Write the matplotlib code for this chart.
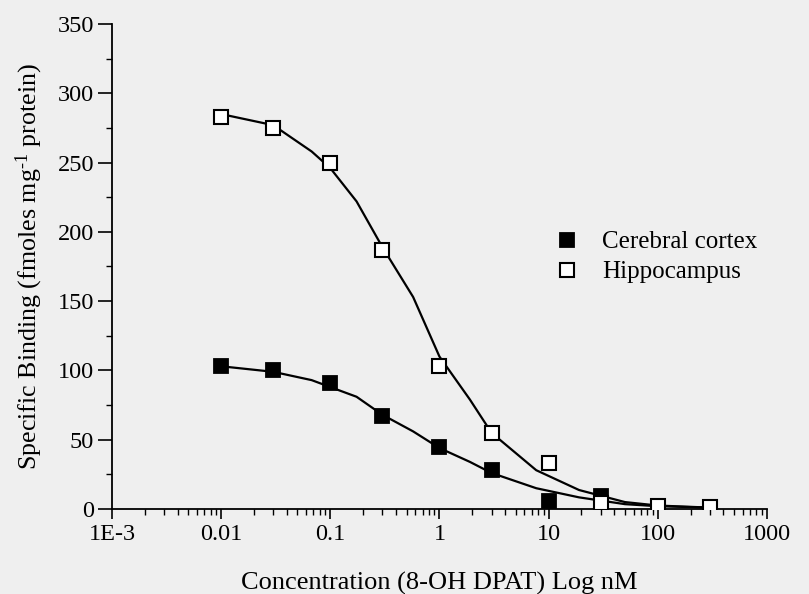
import matplotlib
matplotlib.use('Agg')
import matplotlib.pyplot as plt
import matplotlib.ticker as mticker
import numpy as np

conc = [0.01, 0.03, 0.1, 0.3, 1, 3, 10, 30, 100, 300]
hippocampus = [283, 275, 250, 187, 103, 55, 33, 4.5, 2, 1.5]
cortex_conc = [0.01, 0.03, 0.1, 0.3, 1, 3, 10, 30]
cortex = [103, 100, 91, 67, 45, 28, 6, 9.5]

# Fitted curves
curve_x = [0.01, 0.03, 0.0675, 0.1, 0.174, 0.3, 0.574, 1, 1.9, 3, 7.7, 19, 50, 100, 300]
hippo_curve = [285, 277, 258, 246, 222, 189, 153, 110, 79, 55, 28, 13.7, 5, 2.5, 1]
cortex_curve = [103, 99, 93, 88, 81, 68, 56, 44, 34, 26, 15, 8.4, 3.5, 2, 1]

xtick_vals = [1e-3, 1e-2, 1e-1, 1, 10, 100, 1000]
xtick_labels = ['1E-3', '0.01', '0.1', '1', '10', '100', '1000']

plt.rcParams['font.family'] = ['Liberation Serif', 'DejaVu Serif']
plt.rcParams['mathtext.fontset'] = 'custom'
plt.rcParams['mathtext.rm'] = 'Liberation Serif'
plt.rcParams['mathtext.it'] = 'Liberation Serif:italic'

bg = '#efefef'
fig = plt.figure(figsize=(8.09, 5.94), dpi=100, facecolor=bg)
ax = fig.add_axes([0.1384, 0.1431, 0.8096, 0.8165], facecolor=bg)

ax.plot(curve_x, hippo_curve, color='black', lw=1.6, zorder=2)
ax.plot(curve_x, cortex_curve, color='black', lw=1.6, zorder=2)
h1, = ax.plot(cortex_conc, cortex, ls='none', marker='s', ms=10, mfc='black',
              mec='black', mew=1.3, zorder=3, label='Cerebral cortex')
h2, = ax.plot(conc, hippocampus, ls='none', marker='s', ms=10, mfc='white',
              mec='black', mew=1.5, zorder=4, label='Hippocampus')

ax.set_xscale('log')
ax.set_xlim(1e-3, 1000)
ax.set_ylim(0, 350)
ax.xaxis.set_major_locator(mticker.FixedLocator(xtick_vals))
ax.xaxis.set_major_formatter(mticker.FixedFormatter(xtick_labels))
ax.xaxis.set_minor_locator(mticker.LogLocator(base=10, subs=np.arange(2, 10)))
ax.xaxis.set_minor_formatter(mticker.NullFormatter())
ax.yaxis.set_major_locator(mticker.MultipleLocator(50))
ax.yaxis.set_minor_locator(mticker.MultipleLocator(25))

for s in ['top', 'right']:
    ax.spines[s].set_visible(False)
for s in ['left', 'bottom']:
    ax.spines[s].set_linewidth(1.3)

ax.tick_params(which='major', direction='out', width=1.2, labelsize=17.5, pad=3)
ax.tick_params(axis='x', which='major', length=7.5)
ax.tick_params(axis='y', which='major', length=10)
ax.tick_params(which='minor', direction='out', length=4, width=1.0)

ax.set_xlabel('Concentration (8-OH DPAT) Log nM', fontsize=19, labelpad=20)
ax.set_ylabel('Specific Binding (fmoles mg$^{\\text{-1}}$ protein)', fontsize=18.7, labelpad=9)

ax.legend(handles=[h1, h2], loc='upper left', bbox_to_anchor=(0.645, 0.62), frameon=False,
          fontsize=18, handlelength=0.8, handletextpad=1.0, labelspacing=0.3)

fig.savefig('out.png', dpi=100, facecolor=bg)
